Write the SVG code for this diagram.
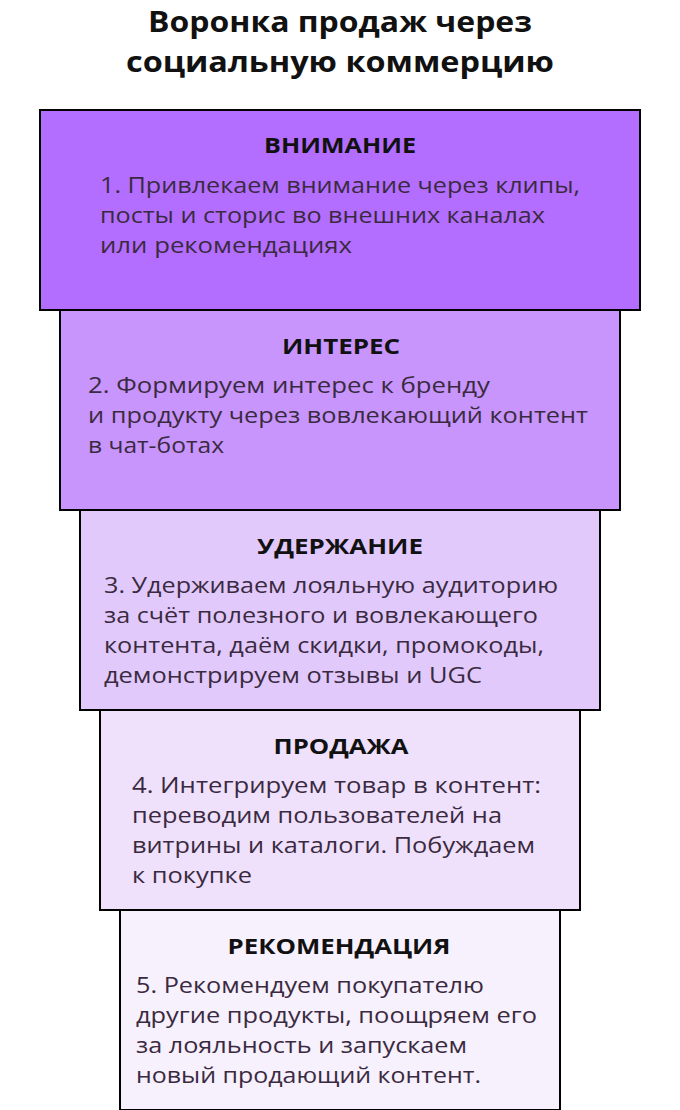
<svg xmlns="http://www.w3.org/2000/svg" width="680" height="1110" viewBox="0 0 680 1110">
<style>
.b{stroke:#000;stroke-width:2}
.h{font-family:"Open Sans",sans-serif;font-weight:700;font-size:21px;fill:#111;text-anchor:middle}
.t{font-family:"Open Sans",sans-serif;font-size:21px;fill:#3a2a40}
.ti{font-family:"Open Sans",sans-serif;font-weight:700;font-size:28px;fill:#111;text-anchor:middle}
</style>
<rect width="680" height="1110" fill="#fff"/>
<g id="title">
<text class="ti" x="340" y="32" textLength="384" lengthAdjust="spacingAndGlyphs">Воронка продаж через</text>
<text class="ti" x="340" y="72" textLength="428" lengthAdjust="spacingAndGlyphs">социальную коммерцию</text>
</g>
<g id="n1">
<rect class="b" x="40" y="110" width="600" height="200" fill="#b36eff"/>
<text class="h" x="340" y="153" textLength="152" lengthAdjust="spacingAndGlyphs">ВНИМАНИЕ</text>
<text class="t" x="100" y="193" textLength="480" lengthAdjust="spacingAndGlyphs">1. Привлекаем внимание через клипы,</text>
<text class="t" x="100" y="223" textLength="445" lengthAdjust="spacingAndGlyphs">посты и сторис во внешних каналах</text>
<text class="t" x="100" y="253" textLength="252" lengthAdjust="spacingAndGlyphs">или рекомендациях</text>
</g>
<g id="n2">
<rect class="b" x="60" y="310" width="560" height="200" fill="#c795fc"/>
<text class="h" x="341" y="354" textLength="118" lengthAdjust="spacingAndGlyphs">ИНТЕРЕС</text>
<text class="t" x="88" y="393" textLength="402" lengthAdjust="spacingAndGlyphs">2. Формируем интерес к бренду</text>
<text class="t" x="88" y="423" textLength="500" lengthAdjust="spacingAndGlyphs">и продукту через вовлекающий контент</text>
<text class="t" x="88" y="453" textLength="136" lengthAdjust="spacingAndGlyphs">в чат-ботах</text>
</g>
<g id="n3">
<rect class="b" x="80" y="510" width="520" height="200" fill="#e1c9fb"/>
<text class="h" x="340" y="554" textLength="166" lengthAdjust="spacingAndGlyphs">УДЕРЖАНИЕ</text>
<text class="t" x="104" y="593" textLength="454" lengthAdjust="spacingAndGlyphs">3. Удерживаем лояльную аудиторию</text>
<text class="t" x="104" y="623" textLength="434" lengthAdjust="spacingAndGlyphs">за счёт полезного и вовлекающего</text>
<text class="t" x="104" y="653" textLength="440" lengthAdjust="spacingAndGlyphs">контента, даём скидки, промокоды,</text>
<text class="t" x="104" y="683" textLength="378" lengthAdjust="spacingAndGlyphs">демонстрируем отзывы и UGC</text>
</g>
<g id="n4">
<rect class="b" x="100" y="710" width="480" height="200" fill="#efe1fc"/>
<text class="h" x="341" y="754" textLength="135" lengthAdjust="spacingAndGlyphs">ПРОДАЖА</text>
<text class="t" x="132" y="793" textLength="409" lengthAdjust="spacingAndGlyphs">4. Интегрируем товар в контент:</text>
<text class="t" x="132" y="823" textLength="370" lengthAdjust="spacingAndGlyphs">переводим пользователей на</text>
<text class="t" x="132" y="853" textLength="403" lengthAdjust="spacingAndGlyphs">витрины и каталоги. Побуждаем</text>
<text class="t" x="132" y="883" textLength="120" lengthAdjust="spacingAndGlyphs">к покупке</text>
</g>
<g id="n5">
<rect class="b" x="120" y="910" width="440" height="200" fill="#f7f0fd"/>
<text class="h" x="339" y="954" textLength="223" lengthAdjust="spacingAndGlyphs">РЕКОМЕНДАЦИЯ</text>
<text class="t" x="136" y="993" textLength="348" lengthAdjust="spacingAndGlyphs">5. Рекомендуем покупателю</text>
<text class="t" x="136" y="1023" textLength="401" lengthAdjust="spacingAndGlyphs">другие продукты, поощряем его</text>
<text class="t" x="136" y="1053" textLength="331" lengthAdjust="spacingAndGlyphs">за лояльность и запускаем</text>
<text class="t" x="136" y="1083" textLength="345" lengthAdjust="spacingAndGlyphs">новый продающий контент.</text>
</g>
<g id="connectors"/>
</svg>
